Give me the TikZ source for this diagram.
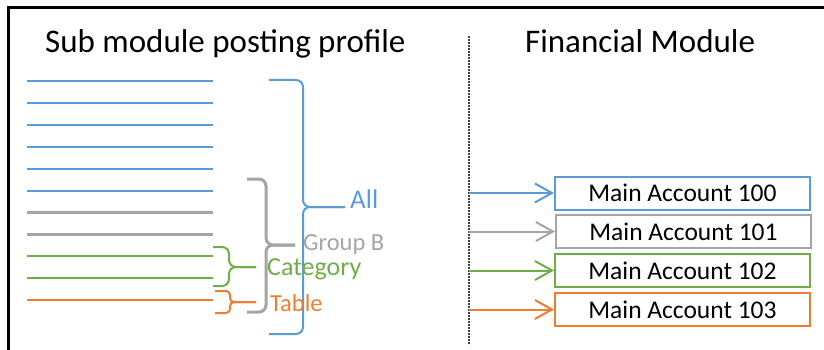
\documentclass[tikz,border=0pt]{standalone}
\usepackage{fontspec}
\setmainfont{Carlito}
\usetikzlibrary{arrows.meta}

\definecolor{allblue}{HTML}{5B9BD5}
\definecolor{grpgray}{HTML}{A5A5A5}
\definecolor{catgreen}{HTML}{70AD47}
\definecolor{tblorange}{HTML}{ED7D31}

\tikzset{
  heading/.style={anchor=base west, inner sep=0pt, font=\fontsize{33}{40}\selectfont},
  level/.style={anchor=base west, inner sep=0pt, text=#1},
  acct/.style={draw=#1, line width=2pt, minimum width=255pt, minimum height=33pt,
    inner sep=0pt, font=\fontsize{25.5}{30}\selectfont},
  post/.style={draw=#1, line width=2pt, -{Straight Barb[length=17pt,width=19pt]}},
  curly/.style={draw=#1, line width=2pt, rounded corners=7pt},
}

% brace: style, x of ends, x of spine, y top, y middle, y bottom, x of stem
\newcommand{\subbrace}[7]{%
  \draw[#1] (#2,#4) -- (#3,#4) -- (#3,#5) -- (#7,#5);
  \draw[#1] (#2,#6) -- (#3,#6) -- (#3,#5) -- (#7,#5);
}

\begin{document}
\begin{tikzpicture}[x=1pt, y=-1pt]
    \useasboundingbox (0,0) rectangle (824,350);
    \draw[line width=2.5pt] (8.5,350) -- (8.5,7.5) -- (824,7.5);

    \node[heading] (subtitle) at (45,53) {Sub module posting profile};
    \node[heading] (fintitle) at (525,53) {Financial Module};
    \draw[black!75, line width=1.2pt, dash pattern=on 2pt off 1pt] (469,36) -- (469,345);

    % posting profile lines
    \foreach \c/\w [count=\i from 0] in {allblue/2,allblue/2,allblue/2,allblue/2,allblue/2,allblue/2,grpgray/3,grpgray/3,catgreen/2,catgreen/2,tblorange/2}
        \draw[\c, line width=\w pt] (27,{81+21.9*\i}) -- (213,{81+21.9*\i});

    \subbrace{curly=allblue}{269}{303}{80}{207}{334}{345}
    \subbrace{curly=grpgray, line width=3pt}{247}{266}{179}{245}{312}{295}
    \subbrace{curly=catgreen}{213}{229}{247}{267}{286}{256}
    \subbrace{curly=tblorange, rounded corners=4pt}{215}{230}{291}{302}{313}{256}

    \node[level=allblue, font=\fontsize{27}{32}\selectfont] (all) at (350,208) {All};
    \node[level=grpgray, font=\fontsize{24.5}{30}\selectfont] (groupb) at (303,250) {Group B};
    \node[level=catgreen, font=\fontsize{26}{31}\selectfont] (category) at (267,275) {Category};
    \node[level=tblorange, font=\fontsize{24.5}{30}\selectfont] (table) at (270,311.5) {Table};

    % main accounts
    \node[acct=allblue] (acc100) at (682.5,193) {Main Account 100};
    \node[acct=grpgray] (acc101) at (683.5,231.5) {Main Account 101};
    \node[acct=catgreen] (acc102) at (682.5,270.5) {Main Account 102};
    \node[acct=tblorange] (acc103) at (682.5,309.5) {Main Account 103};

    \coordinate (in100) at (469,193);
    \coordinate (in101) at (469,231.5);
    \coordinate (in102) at (469,270.5);
    \coordinate (in103) at (469,309.5);
    \draw[post=allblue] (in100) -- (acc100);
    \draw[post=grpgray] (in101) -- (acc101);
    \draw[post=catgreen] (in102) -- (acc102);
    \draw[post=tblorange] (in103) -- (acc103);
\end{tikzpicture}
\end{document}
